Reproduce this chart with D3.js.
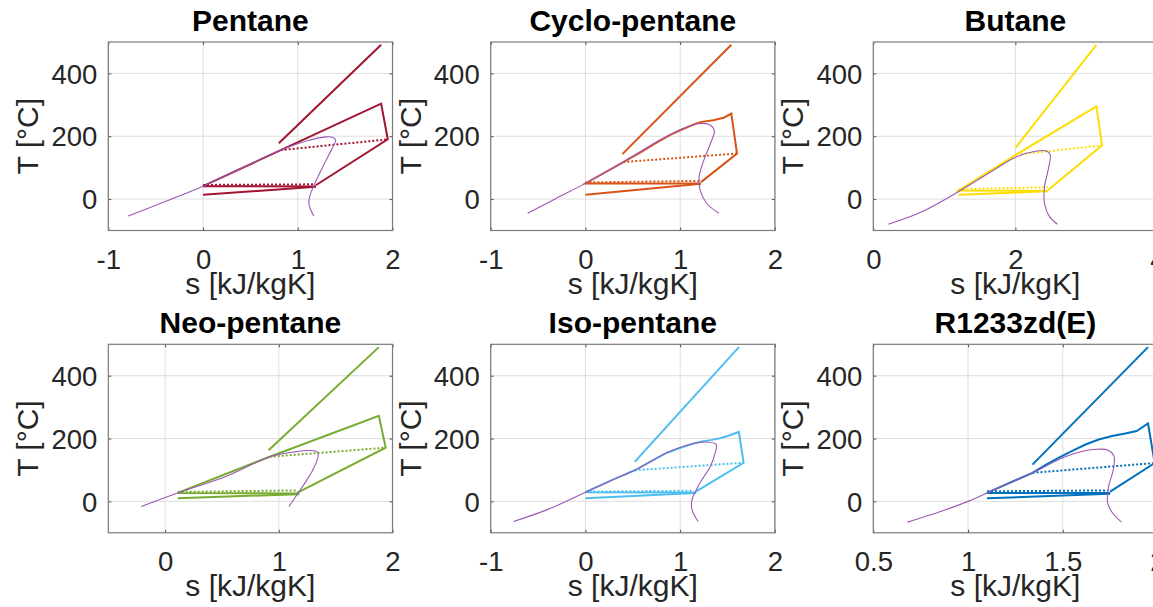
<!DOCTYPE html>
<html lang="en">
<head>
<meta charset="UTF-8">
<title>T-s diagrams</title>
<script src="https://cdn.jsdelivr.net/npm/d3@7"></script>
<style>
    body { margin: 0; background: #fff; }
    svg { display: block; font-family: "Liberation Sans", Arial, sans-serif; }
</style>
</head>
<body>
<div id="chart"></div>
<script>
// ---- data: [s in kJ/kgK, T in °C] ----
const titles = ['Pentane', 'Cyclo-pentane', 'Butane', 'Neo-pentane', 'Iso-pentane', 'R1233zd(E)']
const colors = ['#A2142F', '#D95319', '#FFDD00', '#77AC30', '#4DBEEE', '#0072BD']
const xDomains = [[-1, 2], [-1, 2], [0, 4], [-0.5, 2], [-1, 2], [0.5, 2]]
const xTickVals = [[-1, 0, 1, 2], [-1, 0, 1, 2], [0, 2, 4], [0, 1, 2], [-1, 0, 1, 2], [0.5, 1, 1.5, 2]]
const yTickVals = [0, 200, 400]

// saturation domes
const pentaneDome = [[-0.79,-54],[-0.40,-8],[0,41],[0.42,100],[0.82,156],[1.09,185],[1.30,198],[1.37,196],[1.40,187],[1.37,166],[1.30,124],[1.23,82],[1.18,50],[1.125,7],[1.12,-19],[1.17,-54]]
const cycloDome = [[-0.61,-45],[-0.31,2],[0,50],[0.40,118],[0.75,182],[1.0,221],[1.19,240],[1.30,238],[1.36,219],[1.32,177],[1.25,124],[1.20,71],[1.21,29],[1.28,-14],[1.41,-45]]
const butaneDome = [[0.21,-80],[0.66,-43],[1.20,24],[1.69,92],[2.01,134],[2.30,153],[2.44,153],[2.49,140],[2.46,92],[2.41,39],[2.41,-14],[2.48,-56],[2.59,-80]]
const neoDome = [[-0.21,-16],[0.11,27],[0.54,80],[0.92,142],[1.13,157],[1.27,162],[1.34,157],[1.345,142],[1.30,101],[1.23,59],[1.17,27],[1.13,5],[1.09,-16]]
const isoDome = [[-0.76,-64],[-0.41,-27],[0,29],[0.29,69],[0.52,99],[0.86,155],[1.14,184],[1.28,189],[1.38,181],[1.37,155],[1.32,112],[1.21,59],[1.125,5],[1.125,-27],[1.19,-64]]
const r1233Dome = [[0.68,-66],[0.87,-29],[1.0,0],[1.10,27],[1.34,91],[1.52,144],[1.66,165],[1.74,163],[1.77,144],[1.767,101],[1.742,48],[1.737,-5],[1.763,-37],[1.81,-66]]

// heat source lines
const pentaneSource = [[0.80,178],[1.88,491]]
const cycloSource = [[0.39,143],[1.54,491]]
const butaneSource = [[2.0,163],[3.14,491]]
const neoSource = [[0.91,163],[1.88,491]]
const isoSource = [[0.52,126],[1.62,491]]
const r1233Source = [[1.34,117],[1.95,491]]

// cooling water lines
const pentaneCool = [[0,14],[1.19,39]]
const cycloCool = [[0,14],[1.22,49]]
const butaneCool = [[1.20,14],[2.46,25]]
const neoCool = [[0.11,10],[1.18,23]]
const isoCool = [[0,10],[1.17,27]]
const r1233Cool = [[1.10,10],[1.75,24]]

// cycle (solid)
const pentaneCycle = [[1.19,40],[0,41],[0.82,156],[1.88,304],[1.95,190],[1.19,44]]
const cycloCycle = [[1.22,50],[0,50],[0.40,118],[0.60,152],[0.75,180],[0.90,205],[1.0,219],[1.14,237],[1.21,245],[1.35,251],[1.46,259],[1.54,272],[1.60,145],[1.22,54]]
const butaneCycle = [[2.46,26],[1.20,27],[2.0,140],[3.14,295],[3.22,171],[2.46,29]]
const neoCycle = [[1.18,25],[0.11,27],[0.92,142],[1.88,272],[1.94,171],[1.16,27]]
const isoCycle = [[1.17,28],[0,29],[0.29,69],[0.52,99],[0.86,155],[1.02,172],[1.14,184],[1.23,191],[1.32,195],[1.42,201],[1.50,208],[1.62,221],[1.67,123],[1.17,32]]
const r1233Cycle = [[1.75,27],[1.10,27],[1.34,91],[1.41,116],[1.48,139],[1.55,161],[1.62,181],[1.69,197],[1.76,208],[1.83,216],[1.89,224],[1.95,248],[1.985,122],[1.75,31]]

// dotted lines
const pentaneDotHi = [[0.82,156],[1.95,190]]
const cycloDotHi = [[0.40,118],[1.60,145]]
const butaneDotHi = [[2.08,143],[3.22,171]]
const neoDotHi = [[0.92,142],[1.94,171]]
const isoDotHi = [[0.52,99],[1.67,123]]
const r1233DotHi = [[1.34,91],[1.985,122]]

const pentaneDotLo = [[0,45],[1.17,47]]
const cycloDotLo = [[0,53],[1.21,58]]
const butaneDotLo = [[1.20,31],[2.46,38]]
const neoDotLo = [[0.11,30],[1.16,35]]
const isoDotLo = [[0,31],[1.14,34]]
const r1233DotLo = [[1.10,32],[1.74,35]]

const domes = [pentaneDome, cycloDome, butaneDome, neoDome, isoDome, r1233Dome]
const sources = [pentaneSource, cycloSource, butaneSource, neoSource, isoSource, r1233Source]
const cools = [pentaneCool, cycloCool, butaneCool, neoCool, isoCool, r1233Cool]
const cycles = [pentaneCycle, cycloCycle, butaneCycle, neoCycle, isoCycle, r1233Cycle]
const dotsHi = [pentaneDotHi, cycloDotHi, butaneDotHi, neoDotHi, isoDotHi, r1233DotHi]
const dotsLo = [pentaneDotLo, cycloDotLo, butaneDotLo, neoDotLo, isoDotLo, r1233DotLo]

// ---- layout ----
const W = 1153, H = 607
const colLeft = [108.3, 490.7, 873.3]
const rowTop = [42, 344.3]
const pw = 284.2, ph = 188.5
const domeColor = '#9a58b4'
const fontFam = '"Liberation Sans", Arial, sans-serif'

const svg = d3.select('#chart').append('svg')
    .attr('width', W)
    .attr('height', H)

titles.forEach((title, i) => {
    const left = colLeft[i % 3]
    const top = rowTop[Math.floor(i / 3)]

    const x = d3.scaleLinear().domain(xDomains[i]).range([0, pw])
    const y = d3.scaleLinear().domain([-100, 500]).range([ph, 0])

    const g = svg.append('g').attr('transform', `translate(${left},${top})`)

    g.append('clipPath').attr('id', 'clip' + i)
        .append('rect').attr('width', pw).attr('height', ph)

    // grid
    g.selectAll('.gx').data(xTickVals[i]).enter().append('line')
        .attr('x1', d => x(d)).attr('x2', d => x(d))
        .attr('y1', 0).attr('y2', ph)
        .attr('stroke', '#dedede').attr('stroke-width', 1)
    g.selectAll('.gy').data(yTickVals).enter().append('line')
        .attr('x1', 0).attr('x2', pw)
        .attr('y1', d => y(d)).attr('y2', d => y(d))
        .attr('stroke', '#dedede').attr('stroke-width', 1)

    // axes (ticks inside, box on)
    const tk = 3
    const xb = g.append('g').attr('transform', `translate(0,${ph})`)
        .call(d3.axisBottom(x).tickValues(xTickVals[i]).tickSizeInner(-tk).tickSizeOuter(0).tickFormat(d => String(d)))
    g.append('g').call(d3.axisTop(x).tickValues(xTickVals[i]).tickSizeInner(-tk).tickSizeOuter(0).tickFormat(''))
    const yl = g.append('g').call(d3.axisLeft(y).tickValues(yTickVals).tickSizeInner(-tk).tickSizeOuter(0).tickFormat(d => String(d)))
    g.append('g').attr('transform', `translate(${pw},0)`)
        .call(d3.axisRight(y).tickValues(yTickVals).tickSizeInner(-tk).tickSizeOuter(0).tickFormat(''))

    g.selectAll('.domain').remove()
    g.selectAll('.tick line').attr('stroke', '#4d4d4d')
    g.selectAll('.tick text')
        .attr('font-family', fontFam)
        .attr('font-size', 27.5)
        .attr('fill', '#262626')
    xb.selectAll('.tick text').attr('y', 38).attr('dy', 0)
    yl.selectAll('.tick text').attr('x', -11).attr('dy', '0.35em')

    g.append('rect')
        .attr('width', pw).attr('height', ph)
        .attr('fill', 'none').attr('stroke', '#7a7a7a').attr('stroke-width', 1.2)

    const line = d3.line().x(d => x(d[0])).y(d => y(d[1]))
    const smooth = d3.line().x(d => x(d[0])).y(d => y(d[1])).curve(d3.curveCatmullRom.alpha(0.5))

    const plot = g.append('g').attr('clip-path', `url(#clip${i})`)

    plot.append('path').datum(sources[i]).attr('d', line)
        .attr('fill', 'none').attr('stroke', colors[i]).attr('stroke-width', 2)
    plot.append('path').datum(cools[i]).attr('d', line)
        .attr('fill', 'none').attr('stroke', colors[i]).attr('stroke-width', 2)
    plot.append('path').datum(cycles[i]).attr('d', line)
        .attr('fill', 'none').attr('stroke', colors[i]).attr('stroke-width', 2)
        .attr('stroke-linejoin', 'miter')
    plot.append('path').datum(dotsHi[i]).attr('d', line)
        .attr('fill', 'none').attr('stroke', colors[i]).attr('stroke-width', 2)
        .attr('stroke-dasharray', '2,2')
    plot.append('path').datum(dotsLo[i]).attr('d', line)
        .attr('fill', 'none').attr('stroke', colors[i]).attr('stroke-width', 2)
        .attr('stroke-dasharray', '2,2')
    plot.append('path').datum(domes[i]).attr('d', smooth)
        .attr('fill', 'none').attr('stroke', domeColor).attr('stroke-width', 1.1)

    // title and labels
    g.append('text')
        .attr('x', pw / 2).attr('y', -11)
        .attr('text-anchor', 'middle')
        .attr('font-size', 30).attr('font-weight', 'bold').attr('fill', '#000')
        .text(title)
    g.append('text')
        .attr('x', pw / 2).attr('y', ph + 63)
        .attr('text-anchor', 'middle')
        .attr('font-size', 30).attr('fill', '#262626')
        .text('s [kJ/kgK]')
    g.append('text')
        .attr('transform', `translate(-70,${ph / 2}) rotate(-90)`)
        .attr('text-anchor', 'middle')
        .attr('font-size', 30).attr('fill', '#262626')
        .text('T [°C]')
})
</script>
</body>
</html>
